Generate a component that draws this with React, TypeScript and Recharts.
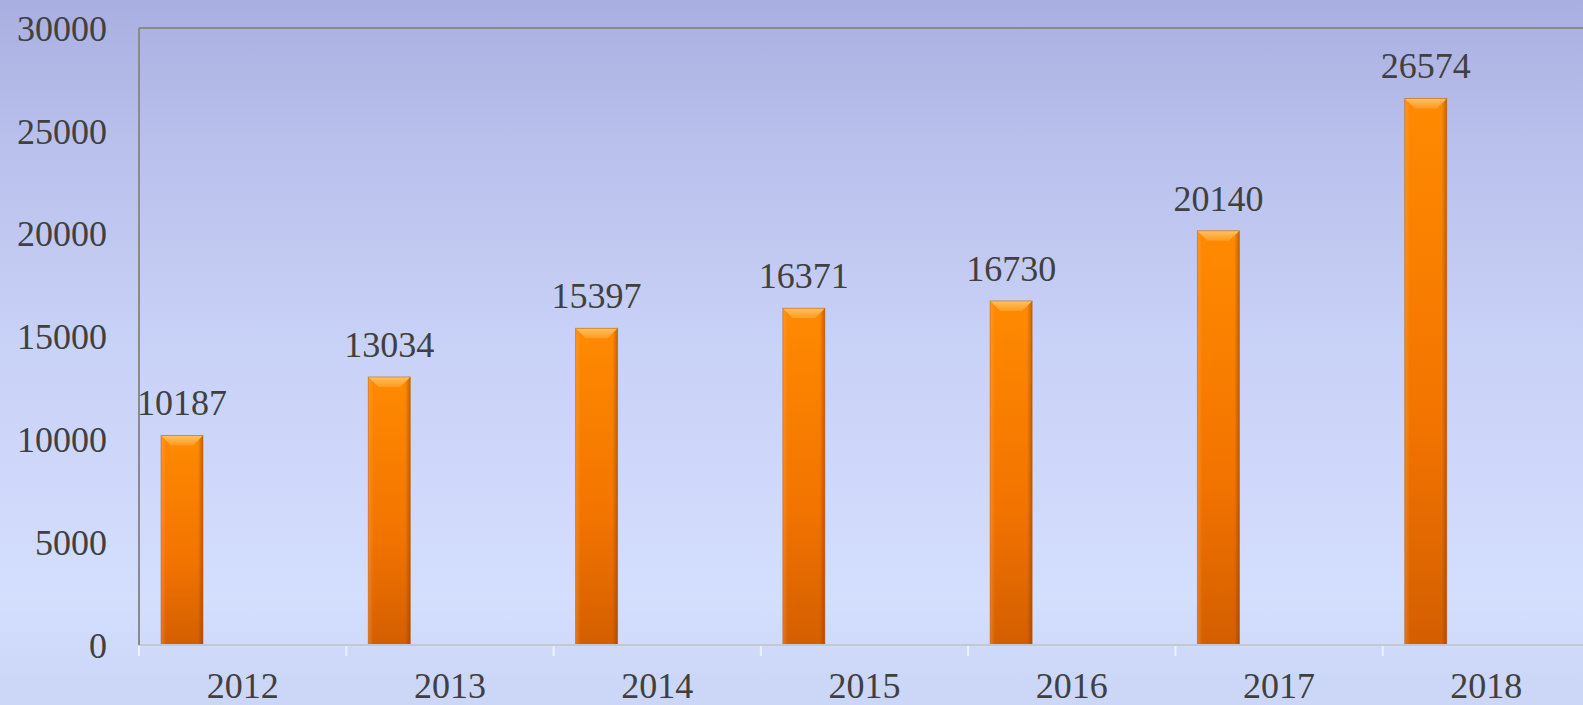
import { BarChart, Bar, XAxis, YAxis, LabelList, ReferenceLine } from 'recharts';

const years = ['2012', '2013', '2014', '2015', '2016', '2017', '2018'];
const values = [10187, 13034, 15397, 16371, 16730, 20140, 26574];
const yTicks = [0, 5000, 10000, 15000, 20000, 25000, 30000];

const data = years.map((year, i) => ({ year, value: values[i] }));

const FONT = '"Liberation Serif", "Times New Roman", serif';
const TEXT = '#404040';
const LABEL_GAP = 27;

function BevelBar(props: any) {
  const { x, y, width, height } = props;
  if (!height || height <= 0) return null;
  const b = Math.min(10, height / 2);
  return (
    <g>
      <rect x={x} y={y} width={width} height={height} fill="url(#barBody)" />
      <rect x={x} y={y} width={width} height={height} fill="url(#barSide)" />
      <polygon
        points={`${x},${y} ${x + width},${y} ${x + width - b},${y + b} ${x + b},${y + b}`}
        fill="url(#barTop)"
      />
      <rect x={x} y={y} width={width} height={height} fill="none" stroke="#b85a10" strokeOpacity={0.5} />
    </g>
  );
}

// year label plus a small white tick at the left edge of each band
function YearTick(props: any) {
  const { x, y, payload } = props;
  const edge = x - (payload?.offset ?? 0);
  const axisY = y - LABEL_GAP;
  return (
    <g>
      <line x1={edge} y1={axisY + 1} x2={edge} y2={axisY + 11} stroke="#eef2ff" strokeWidth={2} />
      <text x={x} y={y} dy="0.71em" textAnchor="middle" fill={TEXT} fontSize={36} fontFamily={FONT}>
        {payload.value}
      </text>
    </g>
  );
}

export default function App() {
  return (
    <div
      style={{
        position: 'absolute',
        left: 0,
        top: 0,
        width: 1583,
        height: 705,
        overflow: 'hidden',
        background: 'linear-gradient(to bottom, #a9afe0 0%, #b9c0ec 20%, #c9d2f7 50%, #d4defd 85%, #ccd6f6 97%, #ccd6f6 100%)',
      }}
    >
      <BarChart
        width={1590}
        height={705}
        data={data}
        margin={{ top: 28, right: 0, bottom: 0, left: 0 }}
        barGap={80}
      >
        <defs>
          <linearGradient id="barBody" x1="0" y1="0" x2="0" y2="1">
            <stop offset="0%" stopColor="#ff8a00" />
            <stop offset="60%" stopColor="#f27400" />
            <stop offset="100%" stopColor="#d45e00" />
          </linearGradient>
          <linearGradient id="barSide" x1="0" y1="0" x2="1" y2="0">
            <stop offset="0%" stopColor="#ffb060" stopOpacity={0.35} />
            <stop offset="12%" stopColor="#ffb060" stopOpacity={0} />
            <stop offset="88%" stopColor="#803000" stopOpacity={0} />
            <stop offset="100%" stopColor="#803000" stopOpacity={0.45} />
          </linearGradient>
          <linearGradient id="barTop" x1="0" y1="0" x2="0" y2="1">
            <stop offset="0%" stopColor="#ffc260" />
            <stop offset="100%" stopColor="#ff9a20" />
          </linearGradient>
        </defs>
        <XAxis
          dataKey="year"
          height={60}
          axisLine={{ stroke: '#c4c8d4', strokeWidth: 2 }}
          tickLine={false}
          tickSize={0}
          tickMargin={LABEL_GAP}
          interval={0}
          tick={<YearTick />}
        />
        <YAxis
          domain={[0, 30000]}
          ticks={yTicks}
          width={139}
          axisLine={{ stroke: '#8a8a8a', strokeWidth: 2 }}
          tickLine={false}
          tickSize={0}
          tickMargin={32}
          tick={{ fill: TEXT, fontSize: 36, fontFamily: FONT }}
        />
        <ReferenceLine y={30000} stroke="#8a8a8a" strokeWidth={2} />
        <Bar dataKey="value" barSize={42} shape={<BevelBar />} isAnimationActive={false}>
          <LabelList
            dataKey="value"
            position="top"
            offset={20}
            fill={TEXT}
            fontSize={36}
            fontFamily={FONT}
          />
        </Bar>
        <Bar dataKey="spacer" barSize={42} fill="none" isAnimationActive={false} />
      </BarChart>
    </div>
  );
}
